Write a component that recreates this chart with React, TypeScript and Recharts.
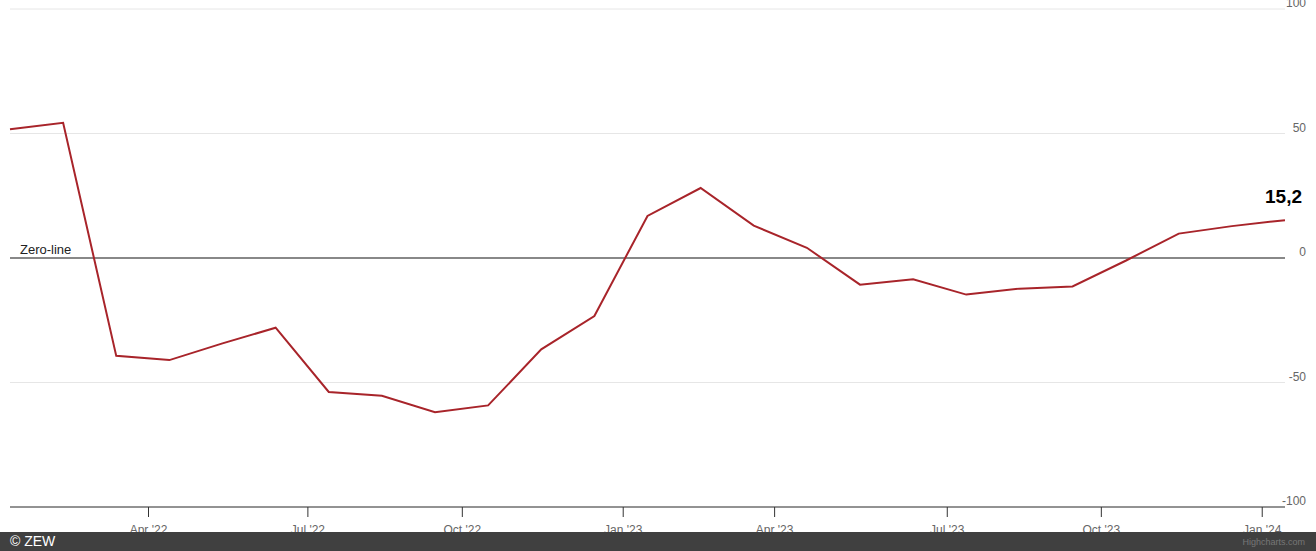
import React from "react";
import {
  LineChart,
  Line,
  XAxis,
  YAxis,
  CartesianGrid,
  ReferenceLine,
  LabelList,
} from "recharts";

// ZEW Indicator of Economic Sentiment (Germany), release dates
const releaseDates: string[] = [
  "2022-01-18", "2022-02-15", "2022-03-15", "2022-04-12", "2022-05-17", "2022-06-14",
  "2022-07-12", "2022-08-16", "2022-09-13", "2022-10-18", "2022-11-15", "2022-12-13",
  "2023-01-17", "2023-02-21", "2023-03-21", "2023-04-18", "2023-05-16", "2023-06-13",
  "2023-07-11", "2023-08-15", "2023-09-12", "2023-10-17", "2023-11-14", "2023-12-12",
  "2024-01-16",
];

const sentimentValues: number[] = [
  51.7, 54.3, -39.3, -41.0, -34.3, -28.0,
  -53.8, -55.3, -61.9, -59.2, -36.7, -23.3,
  16.9, 28.1, 13.0, 4.1, -10.7, -8.5,
  -14.7, -12.3, -11.4, -1.1, 9.8, 12.8,
  15.2,
];

const xTickDates: string[] = [
  "2022-04-01", "2022-07-01", "2022-10-01", "2023-01-01",
  "2023-04-01", "2023-07-01", "2023-10-01", "2024-01-01",
];

const yTicks: number[] = [-100, -50, 0, 50, 100];

const monthNames: string[] = [
  "Jan", "Feb", "Mar", "Apr", "May", "Jun", "Jul", "Aug", "Sep", "Oct", "Nov", "Dec",
];

const zeroLineLabel = "Zero-line";

// ---- derived (ordinal axis: points equally spaced, ticks interpolated by date)
const releaseTimes = releaseDates.map((d) => new Date(d + "T00:00:00Z").getTime());

function ordinalPosition(time: number): number {
  for (let i = 0; i < releaseTimes.length - 1; i++) {
    const a = releaseTimes[i];
    const b = releaseTimes[i + 1];
    if (time >= a && time <= b) return i + (time - a) / (b - a);
  }
  return releaseTimes.length - 1;
}

const tickPositions = xTickDates.map((d) => ordinalPosition(new Date(d + "T00:00:00Z").getTime()));
const tickLabelMap: Record<string, string> = {};
xTickDates.forEach((d, i) => {
  const dt = new Date(d + "T00:00:00Z");
  tickLabelMap[tickPositions[i].toFixed(6)] =
    monthNames[dt.getUTCMonth()] + " '" + String(dt.getUTCFullYear()).slice(2);
});

const data = sentimentValues.map((v, i) => ({ idx: i, value: v }));
const lastIndex = data.length - 1;

const FONT = "'Liberation Sans', Arial, Helvetica, sans-serif";

const YTick = (props: any) => {
  const { x, y, payload } = props;
  return (
    <text
      x={x}
      y={y - 2}
      textAnchor="end"
      fill="#666666"
      fontSize={12}
      fontFamily={FONT}
    >
      {payload.value}
    </text>
  );
};

const ZeroLabel = (props: any) => {
  const vb = props.viewBox || {};
  return (
    <text x={vb.x + 10} y={vb.y - 4} fill="#222222" fontSize={13} fontFamily={FONT}>
      {zeroLineLabel}
    </text>
  );
};

const LastValueLabel = (props: any) => {
  const { x, y, value, index } = props;
  if (index !== lastIndex) return null;
  return (
    <text
      x={x + 17}
      y={y - 17}
      textAnchor="end"
      fill="#000000"
      fontSize={19}
      fontWeight="bold"
      fontFamily={FONT}
    >
      {String(value).replace(".", ",")}
    </text>
  );
};

export default function App() {
  return (
    <div
      style={{
        position: "absolute",
        left: 0,
        top: 0,
        width: 1316,
        height: 551,
        background: "#ffffff",
        overflow: "hidden",
        fontFamily: FONT,
      }}
    >
      <LineChart
        width={1316}
        height={551}
        data={data}
        margin={{ top: 9, right: 0, left: 10, bottom: 0 }}
        style={{ fontFamily: FONT }}
      >
        <CartesianGrid horizontal={true} vertical={false} stroke="#e6e6e6" />
        <XAxis
          dataKey="idx"
          type="number"
          domain={[0, lastIndex]}
          ticks={tickPositions}
          interval={0}
          height={44}
          tickSize={10}
          tickMargin={8}
          axisLine={{ stroke: "#333333" }}
          tickLine={{ stroke: "#333333" }}
          tick={{ fill: "#666666", fontSize: 12, fontFamily: FONT }}
          tickFormatter={(v: number) => tickLabelMap[v.toFixed(6)] || ""}
        />
        <YAxis
          orientation="right"
          type="number"
          domain={[-100, 100]}
          ticks={yTicks}
          width={31}
          axisLine={false}
          tickLine={false}
          tickSize={0}
          tickMargin={21}
          tick={<YTick />}
        />
        <ReferenceLine
          y={0}
          stroke="#888888"
          strokeWidth={2}
          label={<ZeroLabel />}
        />
        <Line
          type="linear"
          dataKey="value"
          stroke="#a8242a"
          strokeWidth={2}
          dot={false}
          activeDot={false}
          isAnimationActive={false}
        >
          <LabelList dataKey="value" content={<LastValueLabel />} />
        </Line>
      </LineChart>
      <div
        style={{
          position: "absolute",
          left: 0,
          top: 532,
          width: 1316,
          height: 19,
          background: "#404040",
        }}
      >
        <span
          style={{
            position: "absolute",
            left: 10,
            top: 1,
            color: "#ffffff",
            fontSize: 14,
            lineHeight: "17px",
            fontFamily: FONT,
          }}
        >
          © ZEW
        </span>
        <span
          style={{
            position: "absolute",
            right: 11,
            top: 4,
            color: "#777777",
            fontSize: 9,
            lineHeight: "12px",
            fontFamily: FONT,
          }}
        >
          Highcharts.com
        </span>
      </div>
    </div>
  );
}
